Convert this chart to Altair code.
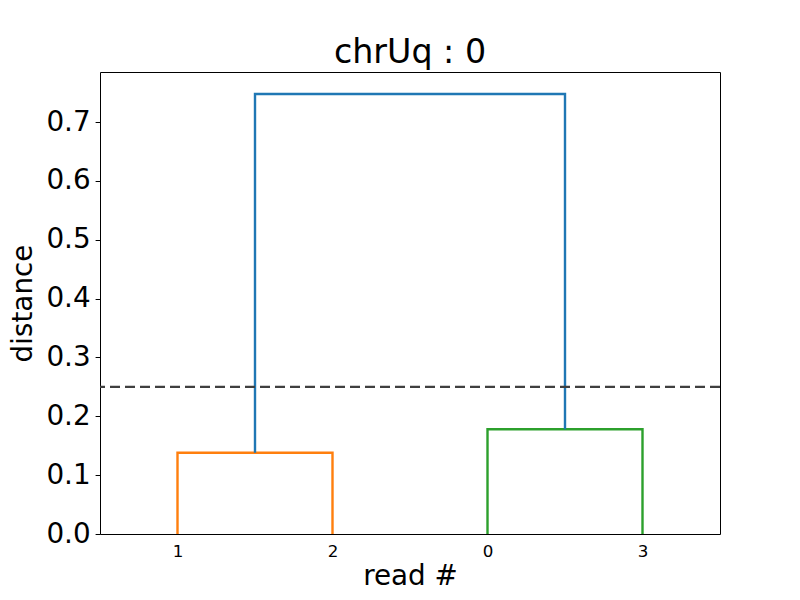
import altair as alt
import pandas as pd

# scipy-style dendrogram coordinates
icoord = [[5, 5, 15, 15], [25, 25, 35, 35], [10, 10, 30, 30]]
dcoord = [[0.0, 0.138, 0.138, 0.0], [0.0, 0.178, 0.178, 0.0], [0.138, 0.7475, 0.7475, 0.178]]
link_colors = ["#ff7f0e", "#2ca02c", "#1f77b4"]
leaf_labels = ["1", "2", "0", "3"]
leaf_positions = [5, 15, 25, 35]
threshold = [0.25]

rows = []
for k, (xs, ys) in enumerate(zip(icoord, dcoord)):
    for j, (xv, yv) in enumerate(zip(xs, ys)):
        rows.append({"link": k, "order": j, "x": xv, "y": yv, "color": link_colors[k]})
links = pd.DataFrame(rows)
thr = pd.DataFrame({"t": threshold})

label_expr = "{" + ",".join(f"'{p}':'{l}'" for p, l in zip(leaf_positions, leaf_labels)) + "}[datum.value]"

FONT = "DejaVu Sans"

xenc = alt.X("x:Q", scale=alt.Scale(domain=[0, 40], nice=False, zero=False),
             axis=alt.Axis(title="read #", values=leaf_positions, labelExpr=label_expr,
                           grid=False, ticks=False, labelFontSize=16.7, titleFontSize=27.8,
                           labelPadding=9, titlePadding=3, domain=False,
                           labelColor="black", titleColor="black", titleFontWeight="normal"))
yenc = alt.Y("y:Q", scale=alt.Scale(domain=[0, 0.785], nice=False),
             axis=alt.Axis(title="distance", values=[0, 0.1, 0.2, 0.3, 0.4, 0.5, 0.6, 0.7],
                           format=".1f", grid=False, tickSize=4.9, tickColor="black",
                           labelFontSize=27.8, titleFontSize=27.8, labelPadding=5,
                           titlePadding=8, domain=False, labelColor="black",
                           titleColor="black", titleFontWeight="normal"))

lines = alt.Chart(links).mark_line(strokeWidth=2.4).encode(
    x=xenc, y=yenc,
    detail="link:N",
    order="order:Q",
    color=alt.Color("color:N", scale=None),
)

rule = alt.Chart(thr).mark_rule(color="#3f3f3f", strokeWidth=2.4, strokeDash=[10, 5]).encode(
    y=alt.Y("t:Q")
)

chart = alt.layer(lines, rule).properties(
    width=620, height=462,
    title=alt.TitleParams("chrUq : 0", fontSize=33.3, font=FONT, fontWeight="normal",
                          anchor="middle", baseline="alphabetic", offset=10, dy=34, color="black"),
    autosize="none",
    padding={"left": 100, "top": 72, "right": 80, "bottom": 66},
).configure(font=FONT).configure_view(stroke="black", strokeWidth=1).configure_axis(
    labelFont=FONT, titleFont=FONT
)

chart.save("out.html", embed_options={"renderer": "svg", "actions": False})
